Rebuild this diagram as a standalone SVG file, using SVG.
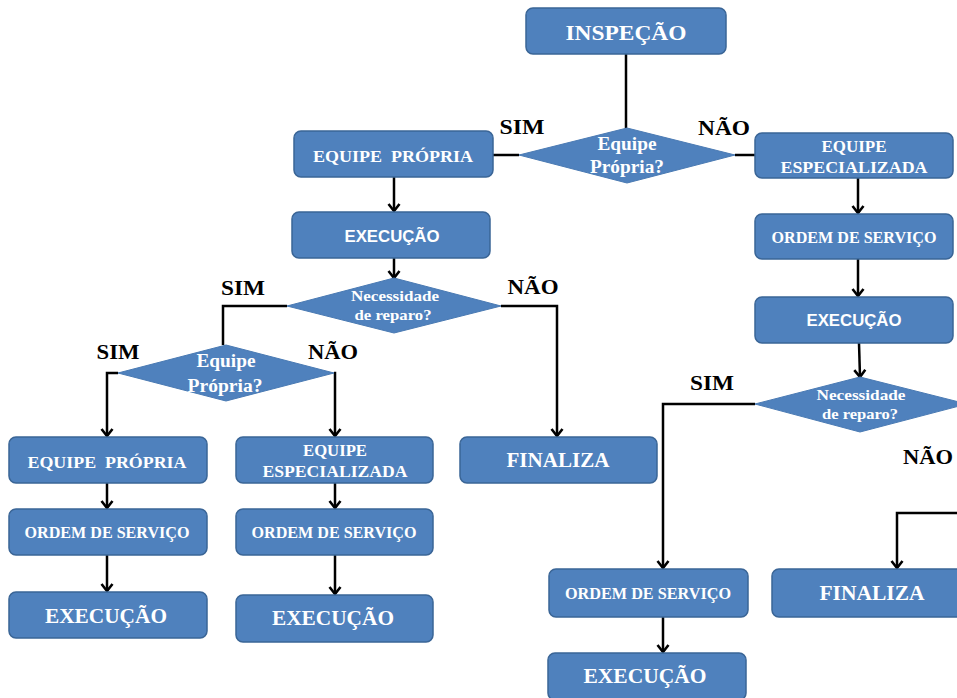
<svg xmlns="http://www.w3.org/2000/svg" width="957" height="698" viewBox="0 0 957 698">
<defs>
<marker id="arr" markerUnits="userSpaceOnUse" markerWidth="14" markerHeight="14" refX="12" refY="7" orient="auto" viewBox="0 0 14 14">
<path d="M5,1.5 L12,7 L5,12.5" fill="none" stroke="#000" stroke-width="2.6"/>
</marker>
</defs>
<style>
.box{fill:#4F81BD;stroke:#3A6596;stroke-width:1.5}
.dia{fill:#4F81BD;stroke:#4A7AB3;stroke-width:1}
.t{fill:#fff;font-family:"Liberation Serif",serif;font-weight:bold;text-anchor:middle;white-space:pre}
.s{fill:#fff;font-family:"Liberation Sans",sans-serif;font-weight:bold;text-anchor:middle;font-size:17px}
.lbl{fill:#000;font-family:"Liberation Serif",serif;font-weight:bold;font-size:21px;text-anchor:middle}
.c{fill:none;stroke:#000;stroke-width:2.5}
.a{marker-end:url(#arr)}
</style>
<rect width="957" height="698" fill="#fff"/>
<g id="connectors">
<path class="c" d="M626,54 V128"/>
<path class="c" d="M519,155 H493"/>
<path class="c" d="M735,155 H755"/>
<path class="c a" d="M394,177 V211"/>
<path class="c a" d="M394,258 V278"/>
<path class="c" d="M287,306 H223 V345"/>
<path class="c a" d="M501,306 H557 V436"/>
<path class="c a" d="M118,373 H107 V436"/>
<path class="c a" d="M334,373 H335 V436"/>
<path class="c a" d="M107,483 V508"/>
<path class="c a" d="M107,555 V591"/>
<path class="c a" d="M335,483 V508"/>
<path class="c a" d="M335,555 V594"/>
<path class="c a" d="M858,178 V213"/>
<path class="c a" d="M858,259 V296"/>
<path class="c a" d="M859,343 L860,377"/>
<path class="c a" d="M755,404 H663 V568"/>
<path class="c a" d="M663,617 V652"/>
<path class="c a" d="M960,513 H897 V568"/>
</g>
<g id="labels">
<text class="lbl" x="522" y="134" textLength="45" lengthAdjust="spacingAndGlyphs">SIM</text>
<text class="lbl" x="724" y="135" textLength="52" lengthAdjust="spacingAndGlyphs">NÃO</text>
<text class="lbl" x="243" y="295" textLength="44" lengthAdjust="spacingAndGlyphs">SIM</text>
<text class="lbl" x="533" y="294" textLength="51" lengthAdjust="spacingAndGlyphs">NÃO</text>
<text class="lbl" x="118" y="359" textLength="43" lengthAdjust="spacingAndGlyphs">SIM</text>
<text class="lbl" x="333" y="359" textLength="50" lengthAdjust="spacingAndGlyphs">NÃO</text>
<text class="lbl" x="712" y="390" textLength="44" lengthAdjust="spacingAndGlyphs">SIM</text>
<text class="lbl" x="928" y="464" textLength="50" lengthAdjust="spacingAndGlyphs">NÃO</text>
</g>
<g id="n-inspecao">
<rect class="box" x="526" y="8" width="200" height="46" rx="7"/>
<text class="t" x="626" y="40" font-size="22" textLength="121" lengthAdjust="spacingAndGlyphs">INSPEÇÃO</text>
</g>
<g id="d-equipe1">
<polygon class="dia" points="627,128 735,155 627,183 519,155"/>
<text class="t" x="627" y="150" font-size="18" textLength="59" lengthAdjust="spacingAndGlyphs">Equipe</text>
<text class="t" x="627" y="173" font-size="18" textLength="74" lengthAdjust="spacingAndGlyphs">Própria?</text>
</g>
<g id="n-propria1">
<rect class="box" x="294" y="131" width="199" height="46" rx="7"/>
<text class="t" x="393" y="162" font-size="17" textLength="160" lengthAdjust="spacingAndGlyphs">EQUIPE  PRÓPRIA</text>
</g>
<g id="n-especializada1">
<rect class="box" x="755" y="133" width="198" height="45" rx="7"/>
<text class="t" x="854" y="152" font-size="16" textLength="65" lengthAdjust="spacingAndGlyphs">EQUIPE</text>
<text class="t" x="854" y="173" font-size="16" textLength="147" lengthAdjust="spacingAndGlyphs">ESPECIALIZADA</text>
</g>
<g id="n-execucao1">
<rect class="box" x="292" y="212" width="198" height="46" rx="7"/>
<text class="s" x="392" y="242" textLength="95" lengthAdjust="spacingAndGlyphs">EXECUÇÃO</text>
</g>
<g id="d-reparo1">
<polygon class="dia" points="394,278 501,306 394,333 287,306"/>
<text class="t" x="395" y="301" font-size="14" textLength="88" lengthAdjust="spacingAndGlyphs">Necessidade</text>
<text class="t" x="393" y="320" font-size="14" textLength="77" lengthAdjust="spacingAndGlyphs">de reparo?</text>
</g>
<g id="d-equipe2">
<polygon class="dia" points="226,345 334,373 226,401 118,373"/>
<text class="t" x="226" y="367" font-size="18" textLength="59" lengthAdjust="spacingAndGlyphs">Equipe</text>
<text class="t" x="225" y="392" font-size="18" textLength="75" lengthAdjust="spacingAndGlyphs">Própria?</text>
</g>
<g id="n-finaliza1">
<rect class="box" x="460" y="437" width="197" height="46" rx="7"/>
<text class="t" x="558" y="467" font-size="20" textLength="103" lengthAdjust="spacingAndGlyphs">FINALIZA</text>
</g>
<g id="n-propria2">
<rect class="box" x="9" y="437" width="198" height="46" rx="7"/>
<text class="t" x="107" y="468" font-size="17" textLength="159" lengthAdjust="spacingAndGlyphs">EQUIPE  PRÓPRIA</text>
</g>
<g id="n-especializada2">
<rect class="box" x="236" y="437" width="197" height="46" rx="7"/>
<text class="t" x="335" y="456" font-size="16" textLength="64" lengthAdjust="spacingAndGlyphs">EQUIPE</text>
<text class="t" x="335" y="477" font-size="16" textLength="145" lengthAdjust="spacingAndGlyphs">ESPECIALIZADA</text>
</g>
<g id="n-ordem2">
<rect class="box" x="9" y="509" width="198" height="46" rx="7"/>
<text class="t" x="107" y="538" font-size="16" textLength="165" lengthAdjust="spacingAndGlyphs">ORDEM DE SERVIÇO</text>
</g>
<g id="n-ordem3">
<rect class="box" x="236" y="509" width="197" height="46" rx="7"/>
<text class="t" x="334" y="538" font-size="16" textLength="165" lengthAdjust="spacingAndGlyphs">ORDEM DE SERVIÇO</text>
</g>
<g id="n-execucao2">
<rect class="box" x="9" y="592" width="198" height="46" rx="7"/>
<text class="t" x="106" y="623" font-size="21" textLength="122" lengthAdjust="spacingAndGlyphs">EXECUÇÃO</text>
</g>
<g id="n-execucao3">
<rect class="box" x="236" y="595" width="197" height="47" rx="7"/>
<text class="t" x="333" y="625" font-size="21" textLength="122" lengthAdjust="spacingAndGlyphs">EXECUÇÃO</text>
</g>
<g id="n-ordem1">
<rect class="box" x="755" y="214" width="198" height="45" rx="7"/>
<text class="t" x="854" y="243" font-size="16" textLength="165" lengthAdjust="spacingAndGlyphs">ORDEM DE SERVIÇO</text>
</g>
<g id="n-execucao4">
<rect class="box" x="755" y="297" width="198" height="46" rx="7"/>
<text class="s" x="854" y="326" textLength="95" lengthAdjust="spacingAndGlyphs">EXECUÇÃO</text>
</g>
<g id="d-reparo2">
<polygon class="dia" points="860,377 967,404 860,432 755,404"/>
<text class="t" x="861" y="400" font-size="14" textLength="89" lengthAdjust="spacingAndGlyphs">Necessidade</text>
<text class="t" x="860" y="419" font-size="14" textLength="76" lengthAdjust="spacingAndGlyphs">de reparo?</text>
</g>
<g id="n-ordem4">
<rect class="box" x="549" y="569" width="199" height="48" rx="7"/>
<text class="t" x="648" y="599" font-size="16" textLength="166" lengthAdjust="spacingAndGlyphs">ORDEM DE SERVIÇO</text>
</g>
<g id="n-execucao5">
<rect class="box" x="548" y="653" width="198" height="47" rx="7"/>
<text class="t" x="645" y="683" font-size="21" textLength="123" lengthAdjust="spacingAndGlyphs">EXECUÇÃO</text>
</g>
<g id="n-finaliza2">
<rect class="box" x="772" y="569" width="200" height="48" rx="7"/>
<text class="t" x="872" y="600" font-size="20" textLength="105" lengthAdjust="spacingAndGlyphs">FINALIZA</text>
</g>
</svg>
